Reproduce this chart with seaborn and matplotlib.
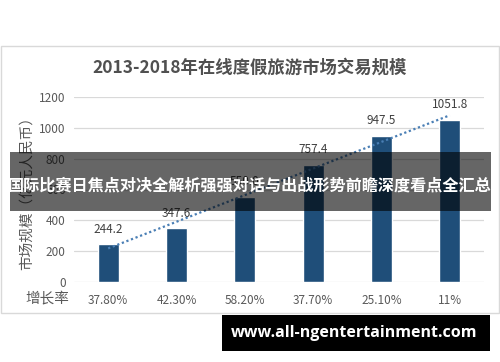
import numpy as np
import pandas as pd
import matplotlib
matplotlib.use("Agg")
import matplotlib.pyplot as plt
from matplotlib.patches import Rectangle
import seaborn as sns

years = ["2013", "2014", "2015", "2016", "2017", "2018"]
market_size = [244.2, 347.6, 550.0, 757.4, 947.5, 1051.8]
growth = ["37.80%", "42.30%", "58.20%", "37.70%", "25.10%", "11%"]
yticks = [0, 200, 400, 600, 800, 1000, 1200]
title = "2013-2018年在线度假旅游市场交易规模"
ylabel = "市场规模（亿元人民币）"
growth_label = "增长率"
banner = "国际比赛日焦点对决全解析强强对话与出战形势前瞻深度看点全汇总"
site = "www.all-ngentertainment.com"

sns.set_theme(style="white")
plt.rcParams["font.family"] = ["Noto Sans CJK SC", "DejaVu Sans"]

df = pd.DataFrame({"year": years, "value": market_size})

W, H = 500, 362
fig = plt.figure(figsize=(W / 100, H / 100), dpi=100)
fig.patch.set_facecolor("white")

def fx(px):
    return px / W

def fy(py):
    return (H - py) / H

ax = fig.add_axes([fx(74), fy(282), fx(484) - fx(74), fy(97) - fy(282)])
sns.barplot(data=df, x="year", y="value", color="#1f4e79", width=0.31,
            saturation=1, ax=ax, zorder=3)
ax.set_xlim(-0.5, 5.5)
ax.set_ylim(0, 1200)
ax.set_yticks(yticks)
ax.set_yticklabels([str(t) for t in yticks], fontsize=8.5, color="#595959")
ax.yaxis.grid(True, color="#d9d9d9", linewidth=0.9, zorder=0)
ax.set_axisbelow(True)
for s in ax.spines.values():
    s.set_visible(False)
ax.tick_params(axis="y", length=0, pad=6)
ax.tick_params(axis="x", length=0, pad=9)
ax.set_xticks(range(len(years)))
ax.set_xticklabels(growth, fontsize=8.5, color="#595959")
ax.set_xlabel("")
ax.set_ylabel("")

# linear trend line
xs = np.arange(len(market_size))
k, b = np.polyfit(xs, market_size, 1)
ax.plot(xs, k * xs + b, linestyle=(0, (1, 1.2)), color="#4a7fb5",
        linewidth=1.6, zorder=4)

for i, v in enumerate(market_size):
    ax.annotate(f"{v:.1f}", (i, v), xytext=(0, 11), textcoords="offset points",
                ha="center", va="center", fontsize=8.5, color="#404040",
                zorder=5)

# frame
fig.patches.append(Rectangle((fx(1), fy(313)), fx(499) - fx(1), fy(46) - fy(313),
                             transform=fig.transFigure, fill=False,
                             edgecolor="#d9d9d9", linewidth=1.0, zorder=0))

fig.text(fx(250), fy(68), title, ha="center", va="center", fontsize=12.5,
         fontweight="bold", color="#505050")
fig.text(fx(27), fy(190), ylabel, ha="center", va="center", rotation=90,
         fontsize=10.5, color="#595959")
fig.text(fx(47), fy(298), growth_label, ha="center", va="center",
         fontsize=10.5, color="#595959")

# overlay banner
fig.patches.append(Rectangle((fx(10), fy(211)), fx(491) - fx(10), fy(152) - fy(211),
                             transform=fig.transFigure, facecolor="black",
                             alpha=0.6, edgecolor="none", zorder=10))
fig.text(fx(250), fy(185), banner, ha="center", va="center", fontsize=11.6,
         fontweight="bold", color="white", zorder=11)

# site box
fig.patches.append(Rectangle((fx(222), fy(351)), fx(490) - fx(222), fy(315) - fy(351),
                             transform=fig.transFigure, facecolor="black",
                             edgecolor="none", zorder=10))
fig.text(fx(354), fy(333), site, ha="center", va="center", fontsize=11.5,
         fontweight="bold", color="white", family=["Open Sans", "DejaVu Sans"],
         zorder=11)

fig.savefig("out.png", dpi=100)
